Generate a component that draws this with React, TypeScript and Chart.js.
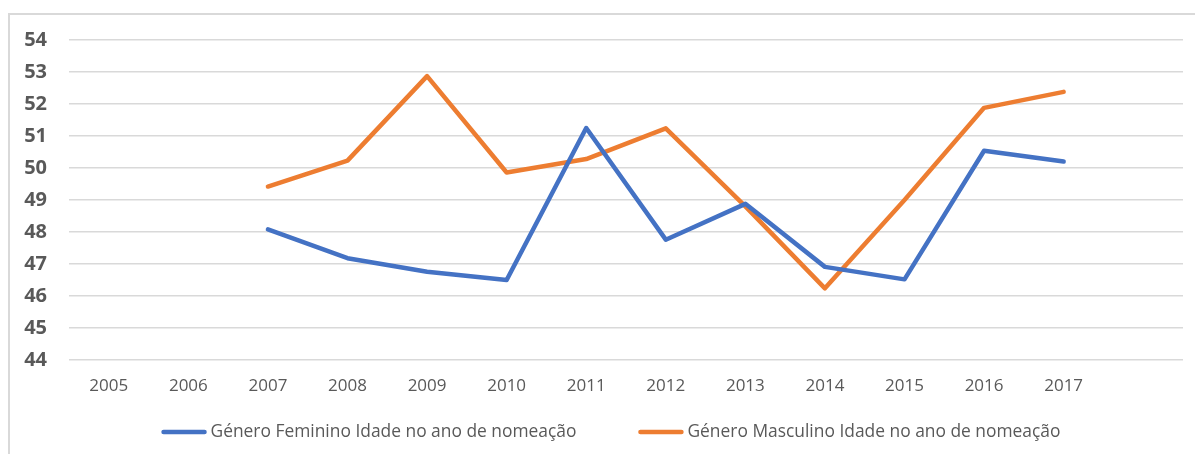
import React, { useEffect, useRef } from "react";
import { Chart, registerables } from "chart.js";

Chart.register(...registerables);

const years = ["2005", "2006", "2007", "2008", "2009", "2010", "2011", "2012", "2013", "2014", "2015", "2016", "2017", ""];
const feminino = [null, null, 48.08, 47.18, 46.76, 46.5, 51.25, 47.76, 48.88, 46.91, 46.52, 50.54, 50.2, null];
const masculino = [null, null, 49.42, 50.23, 52.87, 49.86, 50.28, 51.24, 48.8, 46.24, 49.0, 51.88, 52.38, null];
const seriesNames = ["Género Feminino Idade no ano de nomeação", "Género Masculino Idade no ano de nomeação"];
const seriesColors = ["#4472C4", "#ED7D31"];

const FONT = "'Open Sans', sans-serif";
const TEXT = "#595959";

const framePlugin = {
  id: "frame",
  beforeDraw(chart: any) {
    const ctx = chart.ctx;
    ctx.save();
    ctx.strokeStyle = "#d9d9d9";
    ctx.lineWidth = 2;
    ctx.beginPath();
    ctx.moveTo(9, chart.height);
    ctx.lineTo(9, 14);
    ctx.lineTo(chart.width, 14);
    ctx.stroke();
    ctx.restore();
  },
};

const legendPlugin = {
  id: "customLegend",
  afterDraw(chart: any) {
    const ctx = chart.ctx;
    ctx.save();
    ctx.font = `17.4px ${FONT}`;
    ctx.textBaseline = "middle";
    ctx.textAlign = "left";
    const lineW = 45;
    const gapText = 4;
    const gapItems = 62;
    const items = chart.data.datasets.map((d: any) => ({
      label: d.label,
      color: d.borderColor,
      w: lineW + gapText + ctx.measureText(d.label).width,
    }));
    const total = items.reduce((a: number, it: any) => a + it.w, 0) + gapItems * (items.length - 1);
    let x = 611 - total / 2;
    const y = 432;
    for (const it of items) {
      ctx.strokeStyle = it.color;
      ctx.lineWidth = 4.5;
      ctx.lineCap = "round";
      ctx.beginPath();
      ctx.moveTo(x + 2, y);
      ctx.lineTo(x + lineW - 2, y);
      ctx.stroke();
      ctx.fillStyle = TEXT;
      ctx.fillText(it.label, x + lineW + gapText, y);
      x += it.w + gapItems;
    }
    ctx.restore();
  },
};

export default function App() {
  const ref = useRef<HTMLCanvasElement>(null);
  useEffect(() => {
    const chart = new Chart(ref.current!, {
      type: "line",
      data: {
        labels: years,
        datasets: [
          {
            label: seriesNames[0],
            data: feminino,
            borderColor: seriesColors[0],
            backgroundColor: seriesColors[0],
            borderWidth: 4.5,
            pointRadius: 0,
            tension: 0,
            borderCapStyle: "round",
            borderJoinStyle: "round",
          },
          {
            label: seriesNames[1],
            data: masculino,
            borderColor: seriesColors[1],
            backgroundColor: seriesColors[1],
            borderWidth: 4.5,
            pointRadius: 0,
            tension: 0,
            borderCapStyle: "round",
            borderJoinStyle: "round",
          },
        ],
      },
      options: {
        animation: false,
        responsive: true,
        maintainAspectRatio: false,
        layout: { padding: { left: 23, right: 12, top: 40, bottom: 0 } },
        plugins: {
          tooltip: { enabled: false },
          legend: { display: false },
        },
        scales: {
          x: {
            offset: true,
            afterFit: (s: any) => {
              s.height = 94;
            },
            grid: { display: false },
            border: { display: false },
            ticks: {
              color: TEXT,
              font: { family: FONT, size: 17 },
              padding: 8,
              maxRotation: 0,
              autoSkip: false,
            },
          },
          y: {
            min: 44,
            max: 54,
            afterFit: (s: any) => {
              s.width = 46;
            },
            grid: { color: "#d9d9d9", lineWidth: 1.5, drawTicks: false },
            border: { display: false },
            ticks: {
              stepSize: 1,
              color: TEXT,
              padding: 22,
              font: { family: FONT, size: 20, weight: "bold" },
            },
          },
        },
      },
      plugins: [framePlugin, legendPlugin],
    });
    return () => chart.destroy();
  }, []);
  return (
    <div style={{ position: "fixed", left: 0, top: 0, width: 1195, height: 454, background: "#fff" }}>
      <canvas ref={ref} />
    </div>
  );
}
